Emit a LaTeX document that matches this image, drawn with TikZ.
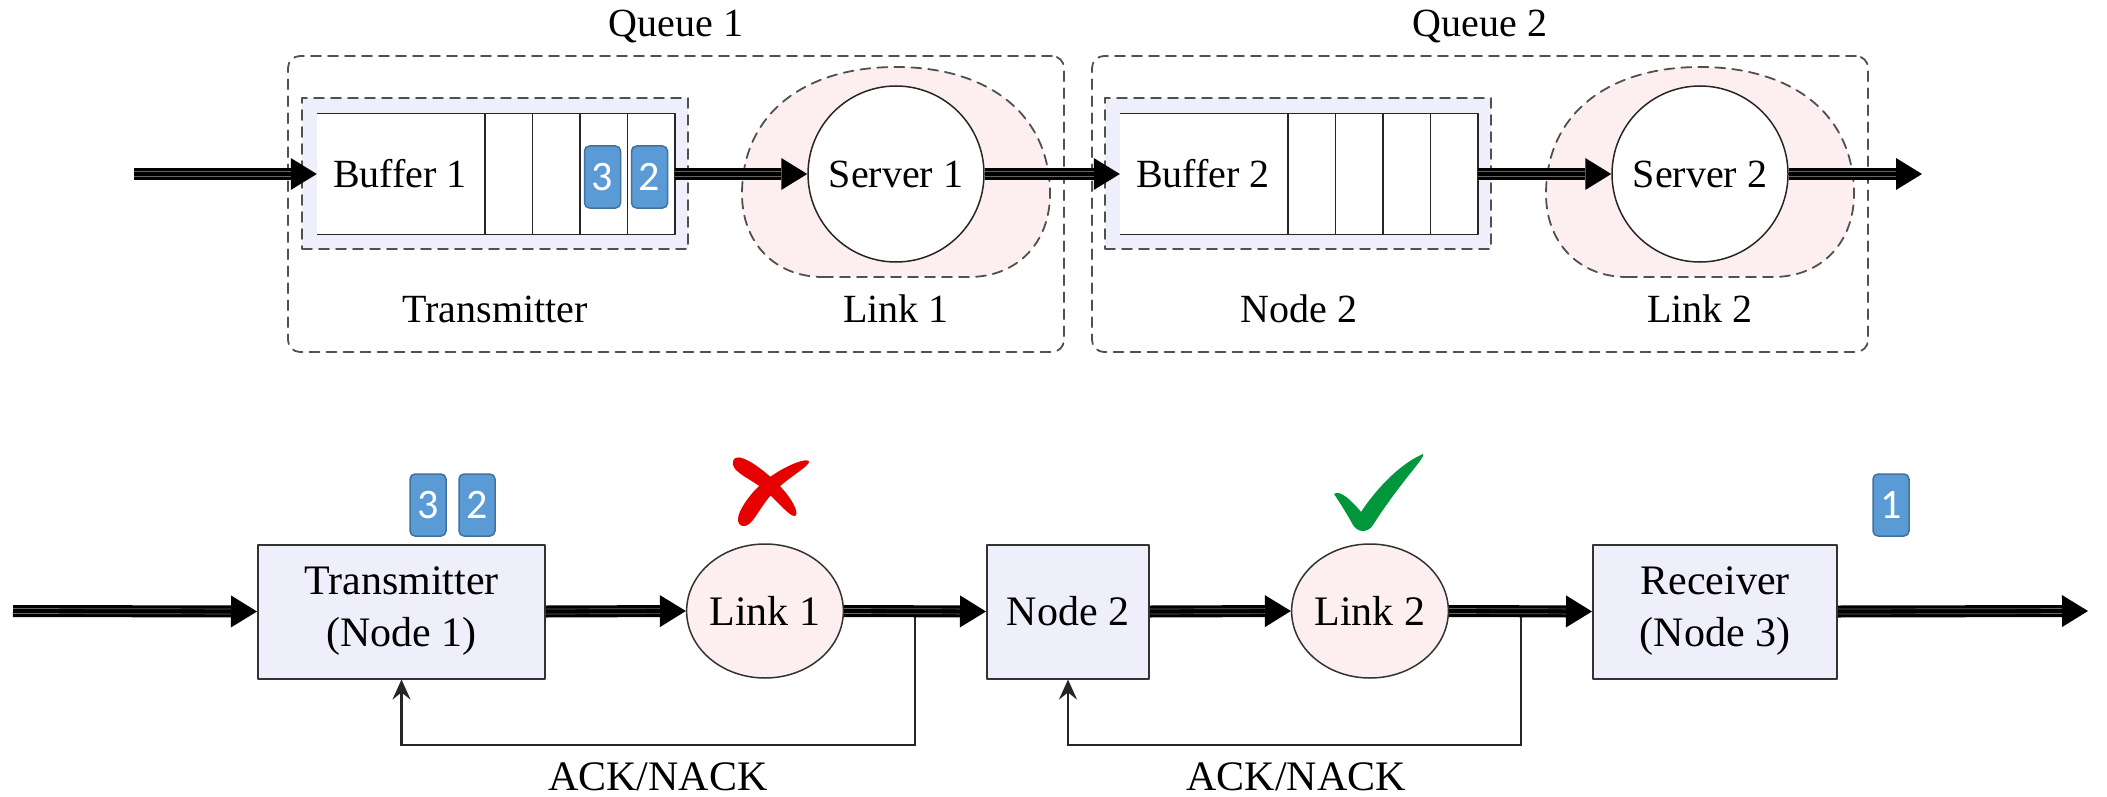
\documentclass[tikz,border=0pt]{standalone}
\usepackage{fontspec}
\setmainfont{Liberation Serif}
\newfontfamily\pktfont{Carlito}
\usetikzlibrary{arrows.meta,calc,positioning,shapes.geometric}
\definecolor{qDash}{HTML}{505050}
\definecolor{qBlue}{HTML}{EFEFFC}
\definecolor{qPink}{HTML}{FDEFEF}
\definecolor{qPkt}{HTML}{5B9BD5}
\definecolor{qPktLine}{HTML}{41719C}
\definecolor{qCross}{HTML}{E60000}
\definecolor{qTick}{HTML}{00963C}

\begin{document}
\begin{tikzpicture}[x=1pt,y=-1pt,>=Latex,line cap=round,line join=round]
\path[fill=white] (0,0) rectangle (2107,797);
\tikzset{txtA/.style={font=\fontsize{40}{46}\selectfont,inner sep=0pt},txtB/.style={font=\fontsize{42}{52}\selectfont,inner sep=0pt,align=center},
  dashbox/.style={draw=qDash,line width=1.8pt,dash pattern=on 10pt off 7pt},
  queuebox/.style={dashbox,rounded corners=12pt,minimum width=776pt,minimum height=296pt,inner sep=0pt},
  bufzone/.style={dashbox,fill=qBlue,minimum width=386pt,minimum height=151pt,inner sep=0pt},
  linkzone/.style={dashbox,fill=qPink},
  slot/.style={fill=white,minimum width=358pt,minimum height=121pt,inner sep=0pt},slotline/.style={draw=black!85,line width=1.5pt,line cap=butt},
  server/.style={circle,draw=black!85,fill=white,line width=1.5pt,minimum size=176pt,inner sep=0pt,txtA},
  stage/.style={rectangle,draw=black!80,fill=qBlue,line width=2pt,minimum height=134pt,inner sep=0pt,txtB},
  hop/.style={ellipse,draw=black!80,fill=qPink,line width=1.5pt,minimum width=152pt,minimum height=134pt,inner sep=0pt,txtB},
  pkt/.style={draw=qPktLine,fill=qPkt,line width=1.5pt,rounded corners=5pt,minimum width=36pt,minimum height=62pt,inner sep=0pt,text=white,font=\pktfont\fontsize{42}{42}\selectfont},
  flow/.style={draw=black,line width=12pt,line cap=butt,-{Triangle[length=26pt,width=32pt,line width=0pt]},
    postaction={draw=black!60,line width=0.7pt,-,shorten >=26pt,transform canvas={yshift=2.5pt}},
    postaction={draw=black!60,line width=0.7pt,-,shorten >=26pt,transform canvas={yshift=-2.5pt}}},
  fb/.style={draw=black!85,line width=2.5pt,line cap=butt,line join=miter,-{Stealth[length=20pt,width=18pt,inset=7pt]}}}
% two queues, buffer + server each
\node[queuebox] (q1) at (676,204) {}; \node[queuebox] (q2) at (1480,204) {};
\node[txtA] (q1lab) at (676,27) {Queue 1}; \node[txtA] (q2lab) at (1480,27) {Queue 2};
\node[bufzone] (zone1) at (495,173.5) {}; \node[bufzone] (zone2) at (1298,173.5) {};
\foreach \cx in {896,1700} \draw[linkzone,shift={(\cx,174)}] (-73,103) -- (73,103) .. controls (122,103) and (154,68) .. (154,20) .. controls (154,-60) and (92,-107) .. (0,-107) .. controls (-92,-107) and (-154,-60) .. (-154,20) .. controls (-154,68) and (-122,103) .. (-73,103) -- cycle;
\node[slot] (buf1) at (496,174) {}; \node[slot] (buf2) at (1299,174) {};
\foreach \b in {buf1,buf2} {
  \draw[slotline] (\b.north west) -- (\b.north east) -- (\b.south east) -- (\b.south west);
  \foreach \k in {1,...,4} \draw[slotline] ([xshift={-\k*47.5pt}]\b.north east) -- ([xshift={-\k*47.5pt}]\b.south east);
}
\node[txtA] (buf1txt) at (400,174) {Buffer 1}; \node[txtA] (buf2txt) at (1203,174) {Buffer 2};
\node[server] (srv1) at (896,174) {Server 1}; \node[server] (srv2) at (1700,174) {Server 2};
\node[txtA] (txlab) at (495,309) {Transmitter}; \node[txtA] (l1lab) at (896,309) {Link 1};
\node[txtA] (n2lab) at (1299,309) {Node 2}; \node[txtA] (l2lab) at (1700,309) {Link 2};
\coordinate (in1) at (134,174); \coordinate (out1) at (1922,174);
\draw[flow] (in1) -- (buf1.west); \draw[flow] (buf1.east) -- (srv1.west); \draw[flow] (srv1.east) -- (buf2.west);
\draw[flow] (buf2.east) -- (srv2.west); \draw[flow] (srv2.east) -- (out1);
\node[pkt] (p3a) at (602.5,177) {3}; \node[pkt] (p2a) at (649.5,177) {2};

% hop-by-hop chain with feedback
\node[stage,minimum width=287pt] (tx) at (401.5,611.5) {Transmitter\\(Node 1)};
\node[hop] (lk1) at (765,611) {Link 1};
\node[stage,minimum width=162pt] (n2) at (1068,611.5) {Node 2};
\node[hop] (lk2) at (1370,611) {Link 2};
\node[stage,minimum width=244pt] (rx) at (1715,611.5) {Receiver\\(Node 3)};
\coordinate (in2) at (13,611); \coordinate (out2) at (2088,611);
\coordinate (tap1) at (915,611); \coordinate (tap2) at (1521,611);
\draw[fb] (tap1) -- ++(0,134) -| (tx.south); \draw[fb] (tap2) -- ++(0,134) -| (n2.south);
\draw[flow] (in2) -- (tx.west); \draw[flow] (tx.east) -- (lk1.west); \draw[flow] (lk1.east) -- (n2.west);
\draw[flow] (n2.east) -- (lk2.west); \draw[flow] (lk2.east) -- (rx.west); \draw[flow] (rx.east) -- (out2);
\node[txtB] (ack1) at (658,777) {ACK/NACK}; \node[txtB] (ack2) at (1296,777) {ACK/NACK};
\node[pkt] (p3b) at (428,505) {3}; \node[pkt] (p2b) at (477,505) {2}; \node[pkt] (p1) at (1891,505) {1};
% lost on link 1, delivered on link 2
\fill[qCross] (733,461) .. controls (736,450) and (760,466) .. (778,484) .. controls (792,498) and (800,514) .. (795,516) .. controls (790,517) and (778,502) .. (766,491) .. controls (752,479) and (730,472) .. (733,461) -- cycle;
\fill[qCross] (809,461) .. controls (811,466) and (786,478) .. (771,495) .. controls (757,511) and (752,528) .. (742,526) .. controls (732,522) and (742,504) .. (756,489) .. controls (773,471) and (804,457) .. (809,461) -- cycle;
\fill[qTick] (1334,494) .. controls (1340,489) and (1353,502) .. (1361,512) .. controls (1379,485) and (1402,463) .. (1423,454) .. controls (1427,456) and (1401,481) .. (1373,525) .. controls (1368,533) and (1358,533) .. (1353,525) .. controls (1346,512) and (1338,500) .. (1334,494) -- cycle;
\end{tikzpicture}
\end{document}
